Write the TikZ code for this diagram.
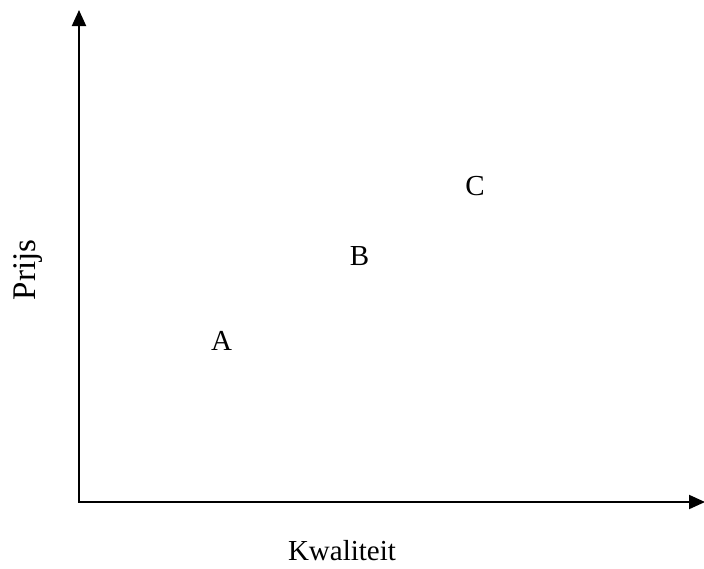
\documentclass[tikz,border=0pt]{standalone}
\usepackage{fontspec}
\setmainfont{Liberation Serif}
\usetikzlibrary{arrows.meta}
\begin{document}
\begin{tikzpicture}[x=1pt,y=-1pt,
  axis/.style={line width=2pt,-{Triangle[length=16pt,width=14pt]}},
  lbl/.style={font=\fontsize{29}{34}\selectfont,inner sep=0pt,anchor=base}]
\useasboundingbox (0,0) rectangle (704,568);
\coordinate (o) at (79,502);
\coordinate (ytop) at (79,10);
\coordinate (xend) at (705,502);
\draw[axis] (o) -- (ytop);
\draw[axis] ([xshift=-1pt]o) -- (xend);
\node[lbl,font=\fontsize{33}{39}\selectfont,rotate=90] (prijs) at (35,270) {Prijs};
\node[lbl] (kwal) at (342,560.5) {Kwaliteit};
\node[lbl] (a) at (221.5,350) {A};
\node[lbl] (b) at (359.5,265) {B};
\node[lbl] (c) at (475,195) {C};
\end{tikzpicture}
\end{document}
